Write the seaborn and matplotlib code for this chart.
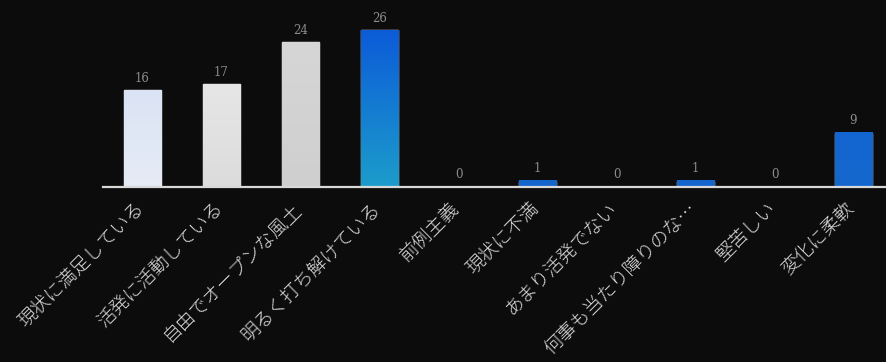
import numpy as np
import matplotlib
matplotlib.use('Agg')
import matplotlib.pyplot as plt
import matplotlib.transforms as mtransforms
from matplotlib.colors import LinearSegmentedColormap
import seaborn as sns

categories = ['現状に満足している', '活発に活動している', '自由でオープンな風土', '明るく打ち解けている',
              '前例主義', '現状に不満', 'あまり活発でない', '何事も当たり障りのな…', '堅苦しい', '変化に柔軟']
values = [16, 17, 24, 26, 0, 1, 0, 1, 0, 9]
# (top colour, bottom colour) for each bar
bar_colors = [('#dbe4f4', '#e6ebf6'), ('#e6e6e6', '#dcdcdc'), ('#d6d6d6', '#cfcfcf'),
              ('#0c5cd8', '#1c9ccb'), ('#1465cc', '#1465cc'), ('#1465cc', '#1465cc'),
              ('#1465cc', '#1465cc'), ('#1465cc', '#1465cc'), ('#1465cc', '#1465cc'),
              ('#1366d2', '#1468cc')]

bg = '#0c0c0c'
sns.set_style('dark')
plt.rcParams['font.family'] = ['Noto Sans CJK JP', 'DejaVu Sans']

fig = plt.figure(figsize=[8.87, 3.62], dpi=100, facecolor=bg)
ax = fig.add_axes([103 / 887, 1 - 187 / 362, 790 / 887, 187 / 362])
ax.set_facecolor(bg)

sns.barplot(x=categories, y=values, hue=categories, legend=False,
            palette=[c[0] for c in bar_colors], width=0.47, ax=ax)

# vertical gradient on each bar
for patch, (top, bottom) in zip(ax.patches, bar_colors):
    x0, y0 = patch.get_x(), patch.get_y()
    w, h = patch.get_width(), patch.get_height()
    if h <= 0:
        continue
    cmap = LinearSegmentedColormap.from_list('g', [bottom, top])
    grad = np.linspace(0, 1, 100).reshape(-1, 1)
    ax.imshow(grad, cmap=cmap, aspect='auto', origin='lower',
              extent=[x0, x0 + w, y0, y0 + h], zorder=patch.get_zorder() + 0.1)
ax.set_xlim(-0.5, 9.5)
ax.set_ylim(0, 31)

for cont in ax.containers:
    ax.bar_label(cont, padding=4, color='#8c8c8c', fontsize=8.5, family='DejaVu Serif')

ax.set_yticks([])
ax.tick_params(axis='x', length=0, pad=6)
ax.set_xticks(range(len(categories)))
ax.set_xticklabels(categories, rotation=45, ha='right', rotation_mode='anchor',
                   color='#dcdcdc', fontsize=13.5, fontweight='light')
shift = mtransforms.ScaledTranslation(-0.08, -0.04, fig.dpi_scale_trans)
for lbl in ax.get_xticklabels():
    lbl.set_transform(lbl.get_transform() + shift)
for s in ['top', 'left', 'right']:
    ax.spines[s].set_visible(False)
ax.spines['bottom'].set_color('#d8d8d8')
ax.spines['bottom'].set_linewidth(1.6)
ax.grid(False)

plt.savefig('out.png', dpi=100, facecolor=bg)
